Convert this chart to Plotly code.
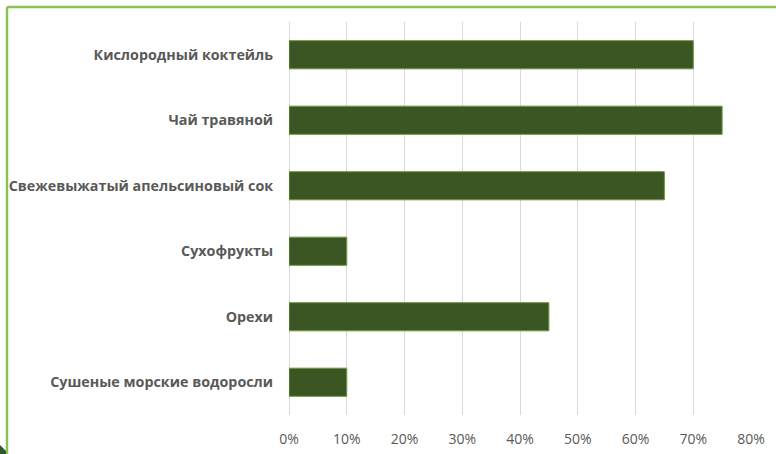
import plotly.graph_objects as go

categories = [
    "Кислородный коктейль",
    "Чай травяной",
    "Свежевыжатый апельсиновый сок",
    "Сухофрукты",
    "Орехи",
    "Сушеные морские водоросли",
]
values = [0.70, 0.75, 0.65, 0.10, 0.45, 0.10]
tick_vals = [0, 0.1, 0.2, 0.3, 0.4, 0.5, 0.6, 0.7, 0.8]
tick_text = ["0%", "10%", "20%", "30%", "40%", "50%", "60%", "70%", "80%"]

fig = go.Figure(go.Bar(
    x=values, y=categories, orientation="h",
    marker=dict(color="#3b5622", line=dict(color="#6a9a3c", width=1)),
))

L, R, T, B = 289, 25, 22, 39
W, H = 776, 454
pw, ph = W - L - R, H - T - B

def px_x(x):
    return (x - L) / pw

def px_y(y):
    return 1 - (y - T) / ph

shapes = [
    dict(type="line", xref="paper", yref="paper",
         x0=px_x(7), x1=px_x(780), y0=px_y(7), y1=px_y(7),
         line=dict(color="#8cc152", width=2.5)),
    dict(type="line", xref="paper", yref="paper",
         x0=px_x(7), x1=px_x(7), y0=px_y(7), y1=px_y(460),
         line=dict(color="#8cc152", width=2.5)),
    dict(type="path", xref="paper", yref="paper",
         path=(f"M {px_x(0)} {px_y(445)} L {px_x(6)} {px_y(451)} "
               f"L {px_x(6)} {px_y(455)} L {px_x(0)} {px_y(455)} Z"),
         fillcolor="#2d5a2a", line=dict(width=0)),
]

fig.update_layout(
    width=W, height=H,
    margin=dict(l=L, r=R, t=T, b=B, pad=0, autoexpand=False),
    paper_bgcolor="white", plot_bgcolor="white",
    bargap=0.57,
    showlegend=False,
    shapes=shapes,
    xaxis=dict(range=[0, 0.8], tickvals=tick_vals, ticktext=tick_text,
               showgrid=True, gridcolor="#d9d9d9", gridwidth=1,
               zeroline=True, zerolinecolor="#d9d9d9", zerolinewidth=1,
               tickfont=dict(family="Open Sans", size=14, color="#595959"),
               ticks="outside", ticklen=11, tickcolor="rgba(0,0,0,0)",
               automargin=False, fixedrange=True),
    yaxis=dict(autorange="reversed", showgrid=False,
               tickfont=dict(family="Open Sans", size=14.3, color="#595959", weight="bold"),
               ticks="outside", ticklen=12, tickcolor="rgba(0,0,0,0)",
               automargin=False, fixedrange=True),
)

fig.write_html("out.html", config={"displayModeBar": False},
               post_script="document.body.style.margin='0';document.body.style.overflow='hidden';")
